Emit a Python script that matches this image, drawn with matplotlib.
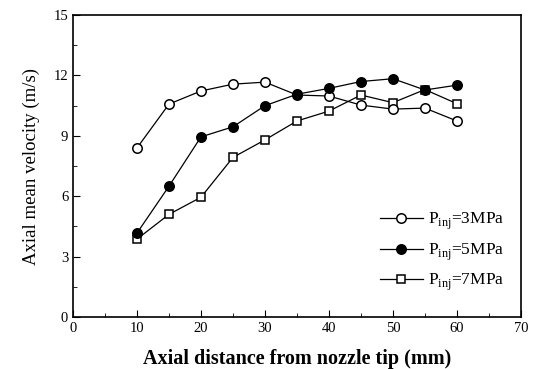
import matplotlib
matplotlib.use("Agg")
import matplotlib.pyplot as plt
from matplotlib.ticker import MultipleLocator

plt.rcParams['font.family'] = ['Liberation Serif', 'DejaVu Serif']
plt.rcParams['mathtext.fontset'] = 'custom'
plt.rcParams['mathtext.rm'] = 'Liberation Serif'

distance = [10, 15, 20, 25, 30, 35, 40, 45, 50, 55, 60]
vel_3mpa = [8.4, 10.58, 11.23, 11.57, 11.67, 11.03, 10.98, 10.53, 10.33, 10.38, 9.74]
vel_5mpa = [4.17, 6.5, 8.95, 9.45, 10.5, 11.07, 11.36, 11.7, 11.84, 11.28, 11.52]
vel_7mpa = [3.87, 5.1, 5.95, 7.93, 8.8, 9.74, 10.23, 11.03, 10.65, 11.3, 10.6]

fig = plt.figure(figsize=(5.37, 3.69), dpi=100)
ax = fig.add_axes([0.136, 0.141, 0.834, 0.818])

# draw order: 7MPa underneath, filled 5MPa on top
l7, = ax.plot(distance, vel_7mpa, '-s', color='black', mfc='white', ms=6.3, lw=0.9, mew=1.1,
              label=r'P$_{\rm inj}$=7MPa', zorder=2)
l3, = ax.plot(distance, vel_3mpa, '-o', color='black', mfc='white', ms=6.8, lw=0.9, mew=1.1,
              label=r'P$_{\rm inj}$=3MPa', zorder=3)
l5, = ax.plot(distance, vel_5mpa, '-o', color='black', mfc='black', ms=6.8, lw=0.9, mew=1.1,
              label=r'P$_{\rm inj}$=5MPa', zorder=4)

ax.set_xlim(0, 70)
ax.set_ylim(0, 15)
ax.xaxis.set_major_locator(MultipleLocator(10))
ax.xaxis.set_minor_locator(MultipleLocator(5))
ax.yaxis.set_major_locator(MultipleLocator(3))
ax.yaxis.set_minor_locator(MultipleLocator(1.5))
ax.tick_params(which='both', direction='in', labelsize=10.5)
ax.tick_params(which='major', length=5)
ax.tick_params(which='minor', length=3)
for s in ax.spines.values():
    s.set_linewidth(1.2)

ax.set_xlabel('Axial distance from nozzle tip (mm)', fontsize=14.5, fontweight='bold', labelpad=10)
ax.set_ylabel('Axial mean velocity (m/s)', fontsize=13.5, labelpad=10)

ax.legend(handles=[l3, l5, l7], loc='center left', bbox_to_anchor=(0.65, 0.215),
          frameon=False, fontsize=12.5, handlelength=2.5, handletextpad=0.25,
          labelspacing=0.55)

fig.savefig('out.png', dpi=100)
